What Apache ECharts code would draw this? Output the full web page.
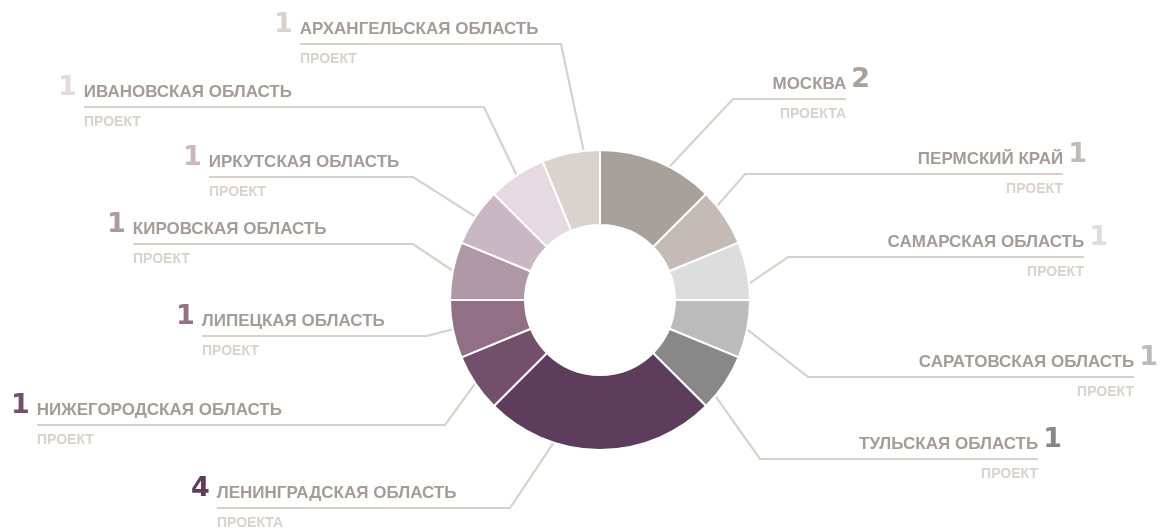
<!DOCTYPE html>
<html>
<head>
<meta charset="utf-8">
<script src="https://cdn.jsdelivr.net/npm/echarts@6/dist/echarts.min.js"></script>
<style>
  html, body { margin: 0; padding: 0; background: #fff; }
  #chart { width: 1162px; height: 530px; }
</style>
</head>
<body>
<div id="chart"></div>
<script>
// data, clockwise from 12 o'clock
var regions = [
  'МОСКВА', 'ПЕРМСКИЙ КРАЙ', 'САМАРСКАЯ ОБЛАСТЬ', 'САРАТОВСКАЯ ОБЛАСТЬ',
  'ТУЛЬСКАЯ ОБЛАСТЬ', 'ЛЕНИНГРАДСКАЯ ОБЛАСТЬ', 'НИЖЕГОРОДСКАЯ ОБЛАСТЬ',
  'ЛИПЕЦКАЯ ОБЛАСТЬ', 'КИРОВСКАЯ ОБЛАСТЬ', 'ИРКУТСКАЯ ОБЛАСТЬ',
  'ИВАНОВСКАЯ ОБЛАСТЬ', 'АРХАНГЕЛЬСКАЯ ОБЛАСТЬ'
]
var projects = [2, 1, 1, 1, 1, 4, 1, 1, 1, 1, 1, 1]
var units = [
  'ПРОЕКТА', 'ПРОЕКТ', 'ПРОЕКТ', 'ПРОЕКТ', 'ПРОЕКТ', 'ПРОЕКТА',
  'ПРОЕКТ', 'ПРОЕКТ', 'ПРОЕКТ', 'ПРОЕКТ', 'ПРОЕКТ', 'ПРОЕКТ'
]

var colors = [
  '#a8a09a', '#c4bbb6', '#dddddd', '#bbbbbb', '#888888', '#5e3c5c',
  '#724f6b', '#917086', '#b097a5', '#c9b7c3', '#e5dae1', '#dad2cc'
]

// label placement: [turn x, underline y, text edge x, side, anchor shift (deg)]
var labelSpots = [
  [733, 99, 846, 'R', 5],
  [745, 174, 1063, 'R', -5],
  [788, 257, 1084, 'R', 5],
  [808, 377, 1134, 'R', 0],
  [760, 459, 1038, 'R', 6],
  [510, 508, 217, 'L', 18],
  [445, 425, 37, 'L', 0],
  [427, 336, 202, 'L', 0],
  [413, 244, 133, 'L', 0],
  [413, 177, 209, 'L', 0],
  [484, 107, 84, 'L', 0],
  [561, 44, 300, 'L', 5]
]

var CENTER = [600, 300]
var NUM_W = 19   // width of the big digit
var GAP_L = 7    // digit -> name, left side
var GAP_R = 5    // name -> digit, right side
var ROW1 = 18
var LIFT = 6

var nameFont = 'Liberation Sans, Arial, sans-serif'
var numFont = 'DejaVu Sans, sans-serif'

function richFor(i) {
  return {
    num: {
      fontFamily: numFont, fontWeight: 'bold', fontSize: 27, lineHeight: 18,
      color: colors[i], verticalAlign: 'bottom'
    },
    nameL: {
      fontFamily: nameFont, fontWeight: 'bold', fontSize: 17, lineHeight: 17,
      color: '#a59c97', verticalAlign: 'bottom', padding: [0, 0, 0, GAP_L]
    },
    nameR: {
      fontFamily: nameFont, fontWeight: 'bold', fontSize: 17, lineHeight: 17,
      color: '#a59c97', verticalAlign: 'bottom', padding: [0, GAP_R, 0, 0]
    },
    subL: {
      fontFamily: nameFont, fontWeight: 'bold', fontSize: 14, lineHeight: 14,
      color: '#d9d1cb', verticalAlign: 'top', padding: [14, 0, 0, NUM_W + GAP_L]
    },
    subR: {
      fontFamily: nameFont, fontWeight: 'bold', fontSize: 14, lineHeight: 14,
      color: '#d9d1cb', verticalAlign: 'top', padding: [14, NUM_W + GAP_R, 0, 0]
    }
  }
}

var seriesData = regions.map(function (name, i) {
  return {
    name: name,
    value: projects[i],
    itemStyle: { color: colors[i] },
    label: { rich: richFor(i) }
  }
})

// turn the slice anchor point of a label line around the centre
function shiftAnchor(pt, deg) {
  var a = deg * Math.PI / 180
  var dx = pt[0] - CENTER[0], dy = pt[1] - CENTER[1]
  return [
    CENTER[0] + dx * Math.cos(a) - dy * Math.sin(a),
    CENTER[1] + dx * Math.sin(a) + dy * Math.cos(a)
  ]
}

var chart = echarts.init(document.getElementById('chart'))
chart.setOption({
  animation: false,
  series: [{
    type: 'pie',
    center: CENTER,
    radius: [75, 150],
    startAngle: 90,
    clockwise: true,
    avoidLabelOverlap: false,
    itemStyle: { borderColor: '#ffffff', borderWidth: 2 },
    emphasis: { disabled: true },
    label: {
      show: true,
      position: 'outside',
      formatter: function (p) {
        var i = p.dataIndex
        if (labelSpots[i][3] === 'L') {
          return '{num|' + p.value + '}{nameL|' + p.name + '}\n{subL|' + units[i] + '}'
        }
        return '{nameR|' + p.name + '}{num|' + p.value + '}\n{subR|' + units[i] + '}'
      }
    },
    labelLine: {
      show: true,
      lineStyle: { color: '#d8d0c9', width: 2.2 }
    },
    labelLayout: function (p) {
      var s = labelSpots[p.dataIndex]
      var left = s[3] === 'L'
      return {
        x: left ? s[2] - NUM_W - GAP_L : s[2] + NUM_W + GAP_R,
        y: s[1] - ROW1 - LIFT,
        align: left ? 'left' : 'right',
        verticalAlign: 'top',
        labelLinePoints: [shiftAnchor(p.labelLinePoints[0], s[4]), [s[0], s[1]], [s[2], s[1]]]
      }
    },
    data: seriesData
  }]
})
</script>
</body>
</html>
